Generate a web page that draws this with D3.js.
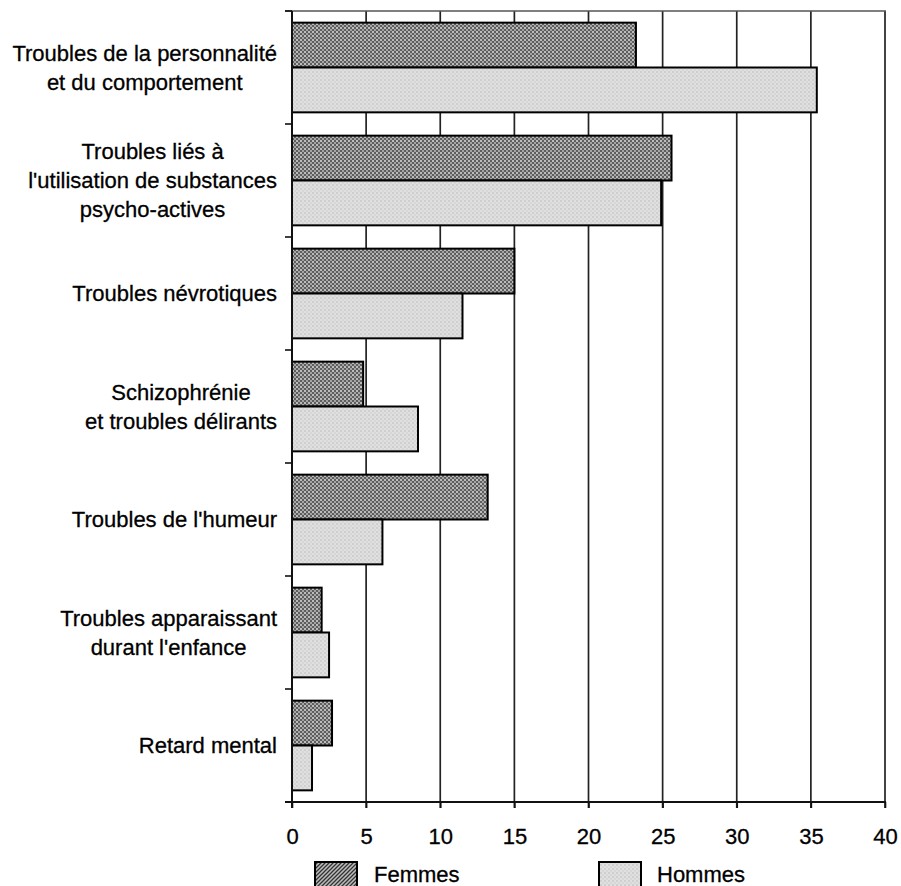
<!DOCTYPE html>
<html>
<head>
<meta charset="utf-8">
<script src="https://cdn.jsdelivr.net/npm/d3@7"></script>
<style>
  html, body { margin: 0; padding: 0; background: #fff; }
  svg { display: block; }
  text { font-family: "Liberation Sans", Arial, sans-serif; fill: #000; stroke: #000; stroke-width: 0.3px; }
</style>
</head>
<body>
<svg id="chart" width="901" height="886"></svg>
<script>
const categories = [
  ["Troubles de la personnalité", "et du comportement"],
  ["Troubles liés à", "l'utilisation de substances", "psycho-actives"],
  ["Troubles névrotiques"],
  ["Schizophrénie", "et troubles délirants"],
  ["Troubles de l'humeur"],
  ["Troubles apparaissant", "durant l'enfance"],
  ["Retard mental"]
];
const seriesNames = ["Femmes", "Hommes"];
const femmes = [23.2, 25.6, 15.0, 4.8, 13.2, 2.0, 2.7];
const hommes = [35.4, 24.9, 11.5, 8.5, 6.1, 2.5, 1.35];
const xTicks = [0, 5, 10, 15, 20, 25, 30, 35, 40];

(function () {
const svg = d3.select("#chart");
const mLeft = 292, mRight = 885, mTop = 11, mBottom = 802;

// Patterns
const defs = svg.append("defs");
const pf = defs.append("pattern").attr("id", "patF").attr("patternUnits", "userSpaceOnUse")
  .attr("width", 4).attr("height", 4);
pf.append("rect").attr("width", 4).attr("height", 4).attr("fill", "#5e5e5e");
pf.append("rect").attr("x", 0).attr("y", 0).attr("width", 2).attr("height", 2).attr("fill", "#bcbcbc");
pf.append("rect").attr("x", 2).attr("y", 2).attr("width", 2).attr("height", 2).attr("fill", "#a4a4a4");

const ph = defs.append("pattern").attr("id", "patH").attr("patternUnits", "userSpaceOnUse")
  .attr("width", 4).attr("height", 4);
ph.append("rect").attr("width", 4).attr("height", 4).attr("fill", "#e0e0e0");
ph.append("rect").attr("x", 0).attr("y", 0).attr("width", 2).attr("height", 2).attr("fill", "#cfcfcf");
ph.append("rect").attr("x", 2).attr("y", 2).attr("width", 2).attr("height", 2).attr("fill", "#d6d6d6");

const pl = defs.append("pattern").attr("id", "patL").attr("patternUnits", "userSpaceOnUse")
  .attr("width", 4).attr("height", 4);
pl.append("rect").attr("width", 4).attr("height", 4).attr("fill", "#bdbdbd");
pl.append("path").attr("d", "M-1,1 L1,-1 M0,4 L4,0 M3,5 L5,3").attr("stroke", "#333").attr("stroke-width", 1.3);

const x = d3.scaleLinear().domain([0, 40]).range([mLeft, mRight]);
const y = d3.scaleBand().domain(d3.range(categories.length)).range([mTop, mBottom]).padding(0);
const ys = d3.scaleBand().domain(seriesNames).range([0, y.bandwidth()]).paddingInner(0).paddingOuter(0.26);

// Grid lines
svg.append("g").selectAll("line").data(xTicks.slice(1)).join("line")
  .attr("x1", d => x(d)).attr("x2", d => x(d))
  .attr("y1", mTop).attr("y2", mBottom + 6)
  .attr("stroke", "#222").attr("stroke-width", 1.7);

// Top frame line
svg.append("line").attr("x1", mLeft - 7).attr("x2", mRight + 1).attr("y1", mTop).attr("y2", mTop)
  .attr("stroke", "#555").attr("stroke-width", 1.6);

// Bars
const data = categories.map((c, i) => ({ i, values: [femmes[i], hommes[i]] }));
const groups = svg.append("g").selectAll("g").data(data).join("g")
  .attr("transform", d => `translate(0,${y(d.i)})`);
groups.selectAll("rect").data(d => d.values.map((v, k) => ({ v, s: seriesNames[k] }))).join("rect")
  .attr("x", x(0))
  .attr("y", d => ys(d.s))
  .attr("width", d => x(d.v) - x(0))
  .attr("height", ys.bandwidth())
  .attr("fill", d => d.s === "Femmes" ? "url(#patF)" : "url(#patH)")
  .attr("stroke", "#000").attr("stroke-width", 2);

// Left axis line and ticks
svg.append("line").attr("x1", mLeft).attr("x2", mLeft).attr("y1", mTop).attr("y2", mBottom + 6)
  .attr("stroke", "#111").attr("stroke-width", 2);
const boundaries = d3.range(categories.length + 1).map(i => i < categories.length ? y(i) : mBottom);
svg.append("g").selectAll("line").data(boundaries).join("line")
  .attr("x1", mLeft - 7).attr("x2", mLeft).attr("y1", d => d).attr("y2", d => d)
  .attr("stroke", "#111").attr("stroke-width", 1.6);

// Bottom axis
const xAxis = d3.axisBottom(x).tickValues(xTicks).tickSize(6).tickPadding(20).tickFormat(d3.format("d"));
const gx = svg.append("g").attr("transform", `translate(0,${mBottom})`).call(xAxis);
gx.select(".domain").remove();
gx.selectAll(".tick line").attr("stroke", "#111").attr("stroke-width", 1.6);
gx.selectAll(".tick text").attr("font-size", 22).attr("font-family", "Liberation Sans, Arial, sans-serif").attr("fill", "#000");
svg.append("line").attr("x1", mLeft - 7).attr("x2", mRight + 1).attr("y1", mBottom).attr("y2", mBottom)
  .attr("stroke", "#111").attr("stroke-width", 2);

// Category labels
const labelRight = 277, lineH = 29;
categories.forEach((lines, i) => {
  const g = svg.append("g");
  const cy = y(i) + y.bandwidth() / 2;
  const texts = lines.map((t, k) => g.append("text")
    .attr("font-size", 22)
    .attr("y", cy + (k - (lines.length - 1) / 2) * lineH)
    .attr("dy", "0.35em")
    .text(t));
  const maxW = d3.max(texts, t => t.node().getComputedTextLength());
  texts.forEach(t => t.attr("x", labelRight - maxW / 2).attr("text-anchor", "middle"));
});

// Legend
const legend = [
  { name: "Femmes", fill: "url(#patL)", sx: 315, tx: 374 },
  { name: "Hommes", fill: "url(#patH)", sx: 599, tx: 657 }
];
const lg = svg.append("g").selectAll("g").data(legend).join("g");
lg.append("rect").attr("x", d => d.sx).attr("y", 862).attr("width", 42).attr("height", 26)
  .attr("fill", d => d.fill).attr("stroke", "#000").attr("stroke-width", 2);
lg.append("text").attr("x", d => d.tx).attr("y", 882).attr("font-size", 22).text(d => d.name);
})();
</script>
</body>
</html>
